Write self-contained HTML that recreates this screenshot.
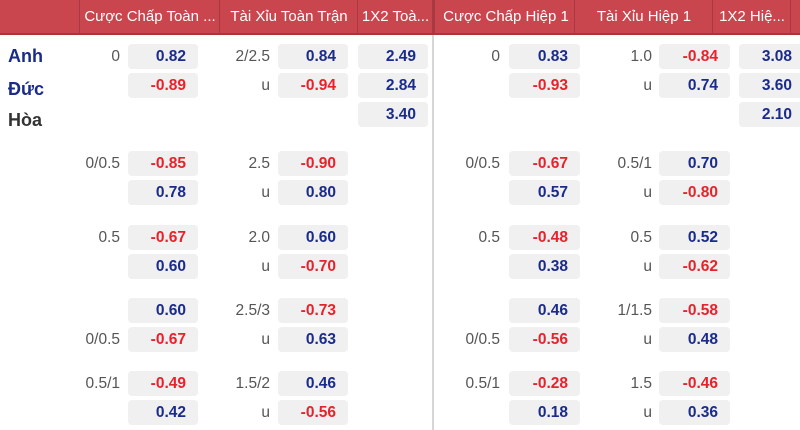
<!DOCTYPE html>
<html><head><meta charset="utf-8"><style>
body{margin:0;width:800px;height:430px;overflow:hidden;background:#fff;font-family:"Liberation Sans","DejaVu Sans",sans-serif;position:relative}
.hd{position:absolute;top:0;left:0;width:800px;height:33px;background:#c9464e;border-bottom:2px solid #a8353c}
.hc{position:absolute;top:0;height:33px;line-height:33px;color:#fff;font-size:15px;text-align:center;border-left:1px solid #a83a41;white-space:nowrap;overflow:hidden}
.vl{position:absolute;left:432px;top:35px;width:2px;height:395px;background:#d6d6d6}
.r{position:absolute;left:0;width:800px;height:25px}
.r div{position:absolute;top:0;height:25px;line-height:25px;font-size:15.5px}
.h{color:#555;text-align:right}
.bx{background:#f0f0f0;border-radius:4px;text-align:right;font-weight:bold;box-sizing:border-box;padding-right:12px}
.b{color:#1a2b8c}.d{color:#e8222c}
.h1{left:70px;width:50px}.b1{left:128px;width:70px}
.h2{left:210px;width:60px}.b2{left:278px;width:70px}
.b3{left:358px;width:70px}
.h3{left:440px;width:60px}.b4{left:509px;width:71px}
.h4{left:590px;width:62px}.b5{left:659px;width:71px}
.b6{left:739px;width:70px;padding-right:17px !important}
.t{position:absolute;left:8px;font-size:18px;font-weight:bold;height:25px;line-height:25px}
</style></head><body>
<div class="hd">
<div class="hc" style="left:79px;width:140px">Cược Chấp Toàn ...</div>
<div class="hc" style="left:219px;width:138px">Tài Xỉu Toàn Trận</div>
<div class="hc" style="left:357px;width:75px">1X2 Toà...</div>
<div class="hc" style="left:432px;width:142px;border-left:3px solid #a83a41">Cược Chấp Hiệp 1</div>
<div class="hc" style="left:574px;width:138px">Tài Xỉu Hiệp 1</div>
<div class="hc" style="left:712px;width:78px">1X2 Hiệ...</div>
<div class="hc" style="left:790px;width:10px"></div>
</div>
<div class="vl"></div>
<div class="t" style="top:44px;color:#1a2b8c">Anh</div>
<div class="t" style="top:77px;color:#1a2b8c">Đức</div>
<div class="t" style="top:108px;color:#333">Hòa</div>

<div class="r" style="top:44px"><div class="h h1">0</div><div class="bx b b1">0.82</div><div class="h h2">2/2.5</div><div class="bx b b2">0.84</div><div class="bx b b3">2.49</div><div class="h h3">0</div><div class="bx b b4">0.83</div><div class="h h4">1.0</div><div class="bx d b5">-0.84</div><div class="bx b b6">3.08</div></div>
<div class="r" style="top:73px"><div class="bx d b1">-0.89</div><div class="h h2">u</div><div class="bx d b2">-0.94</div><div class="bx b b3">2.84</div><div class="bx d b4">-0.93</div><div class="h h4">u</div><div class="bx b b5">0.74</div><div class="bx b b6">3.60</div></div>
<div class="r" style="top:102px"><div class="bx b b3">3.40</div><div class="bx b b6">2.10</div></div>

<div class="r" style="top:151px"><div class="h h1">0/0.5</div><div class="bx d b1">-0.85</div><div class="h h2">2.5</div><div class="bx d b2">-0.90</div><div class="h h3">0/0.5</div><div class="bx d b4">-0.67</div><div class="h h4">0.5/1</div><div class="bx b b5">0.70</div></div>
<div class="r" style="top:180px"><div class="bx b b1">0.78</div><div class="h h2">u</div><div class="bx b b2">0.80</div><div class="bx b b4">0.57</div><div class="h h4">u</div><div class="bx d b5">-0.80</div></div>

<div class="r" style="top:225px"><div class="h h1">0.5</div><div class="bx d b1">-0.67</div><div class="h h2">2.0</div><div class="bx b b2">0.60</div><div class="h h3">0.5</div><div class="bx d b4">-0.48</div><div class="h h4">0.5</div><div class="bx b b5">0.52</div></div>
<div class="r" style="top:254px"><div class="bx b b1">0.60</div><div class="h h2">u</div><div class="bx d b2">-0.70</div><div class="bx b b4">0.38</div><div class="h h4">u</div><div class="bx d b5">-0.62</div></div>

<div class="r" style="top:298px"><div class="bx b b1">0.60</div><div class="h h2">2.5/3</div><div class="bx d b2">-0.73</div><div class="bx b b4">0.46</div><div class="h h4">1/1.5</div><div class="bx d b5">-0.58</div></div>
<div class="r" style="top:327px"><div class="h h1">0/0.5</div><div class="bx d b1">-0.67</div><div class="h h2">u</div><div class="bx b b2">0.63</div><div class="h h3">0/0.5</div><div class="bx d b4">-0.56</div><div class="h h4">u</div><div class="bx b b5">0.48</div></div>

<div class="r" style="top:371px"><div class="h h1">0.5/1</div><div class="bx d b1">-0.49</div><div class="h h2">1.5/2</div><div class="bx b b2">0.46</div><div class="h h3">0.5/1</div><div class="bx d b4">-0.28</div><div class="h h4">1.5</div><div class="bx d b5">-0.46</div></div>
<div class="r" style="top:400px"><div class="bx b b1">0.42</div><div class="h h2">u</div><div class="bx d b2">-0.56</div><div class="bx b b4">0.18</div><div class="h h4">u</div><div class="bx b b5">0.36</div></div>
</body></html>
